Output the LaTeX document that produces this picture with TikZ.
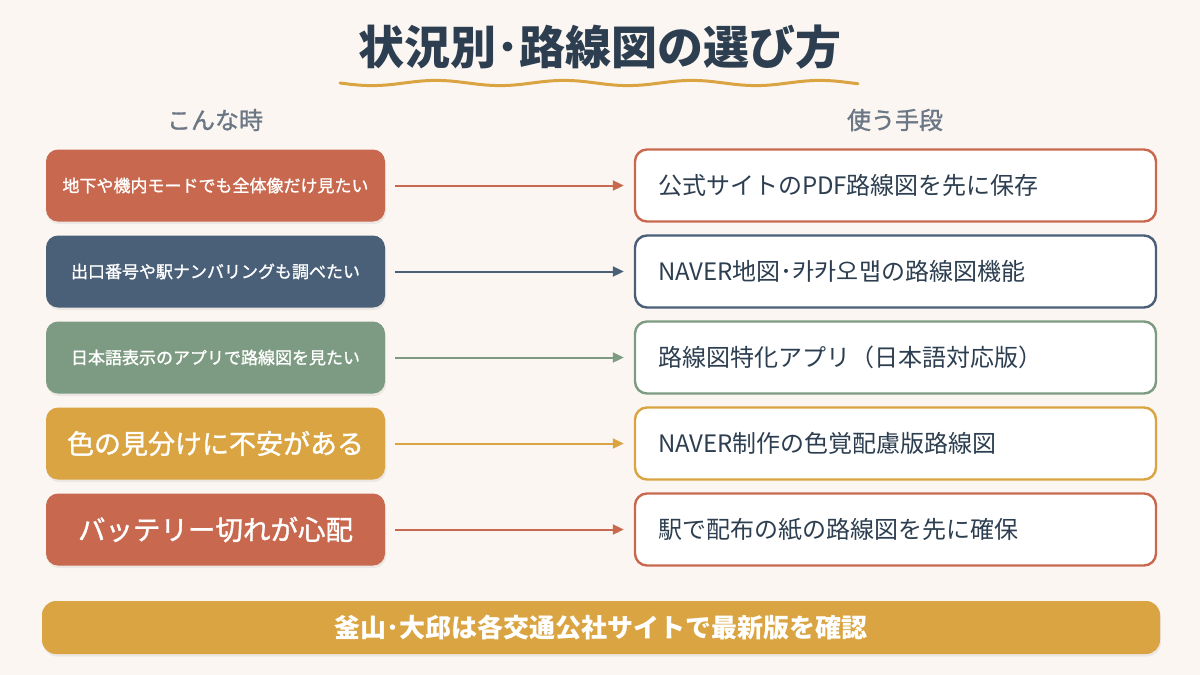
\documentclass[tikz,border=0pt]{standalone}
\usepackage{fontspec}
\setmainfont{Noto Sans CJK JP}
\newfontfamily\jpmed[FakeBold=1.2]{Noto Sans CJK JP}
\usetikzlibrary{arrows.meta,shadows}
\definecolor{bgc}{HTML}{FBF6F1}
\definecolor{terra}{HTML}{C8694F}
\definecolor{slate}{HTML}{4A5F78}
\definecolor{sage}{HTML}{7D9B82}
\definecolor{gold}{HTML}{D9A441}
\definecolor{navy}{HTML}{2C3E50}
\definecolor{hdrgray}{HTML}{6B7785}
\tikzset{
  leftbox/.style={rounded corners=12pt, minimum width=339pt, minimum height=72pt,
    text=white, inner sep=0pt,
    drop shadow={opacity=0.12, shadow xshift=1pt, shadow yshift=-2.5pt}},
  rightbox/.style={rounded corners=12pt, minimum width=521pt, minimum height=72pt,
    fill=white, line width=2.4pt, text=navy, text width=475pt, align=left,
    inner xsep=23pt, inner ysep=0pt, font=\fontsize{24}{28}\selectfont},
  conn/.style={line width=2pt, -{Triangle[length=11pt,width=10pt]}, shorten <=10pt, shorten >=10pt},
  hdr/.style={text=hdrgray, font=\jpmed\fontsize{24}{26}\selectfont},
}
\begin{document}
\begin{tikzpicture}[x=1pt,y=-1pt]
\useasboundingbox (0,0) rectangle (1200,675);
\fill[bgc] (0,0) rectangle (1200,675);
% title
\node[text=navy, font=\bfseries\fontsize{46}{50}\selectfont] (title) at (600,47) {状況別･路線図の選び方};
\draw[gold, line width=3pt, line cap=round] plot[domain=0:518, samples=120] ({340+\x}, {83+2.6*sin(\x*2.8125)});
% headers
\node[hdr] (h1) at (215,120) {こんな時};
\node[hdr] (h2) at (895,120) {使う手段};
% left boxes
\node[leftbox, fill=terra, font=\jpmed\fontsize{17}{20}\selectfont] (l1) at (215.5,185.5) {地下や機内モードでも全体像だけ見たい};
\node[leftbox, fill=slate, font=\jpmed\fontsize{17}{20}\selectfont] (l2) at (215.5,271.5) {出口番号や駅ナンバリングも調べたい};
\node[leftbox, fill=sage, font=\jpmed\fontsize{17}{20}\selectfont] (l3) at (215.5,357.5) {日本語表示のアプリで路線図を見たい};
\node[leftbox, fill=gold, font=\jpmed\fontsize{27}{30}\selectfont] (l4) at (215.5,443.5) {色の見分けに不安がある};
\node[leftbox, fill=terra, font=\jpmed\fontsize{27.5}{30}\selectfont] (l5) at (215.5,529.5) {バッテリー切れが心配};
% right boxes
\node[rightbox, draw=terra] (r1) at (895.5,185.5) {公式サイトのPDF路線図を先に保存};
\node[rightbox, draw=slate] (r2) at (895.5,271.5) {NAVER地図･카카오맵の路線図機能};
\node[rightbox, draw=sage] (r3) at (895.5,357.5) {路線図特化アプリ（日本語対応版）};
\node[rightbox, draw=gold] (r4) at (895.5,443.5) {NAVER制作の色覚配慮版路線図};
\node[rightbox, draw=terra] (r5) at (895.5,529.5) {駅で配布の紙の路線図を先に確保};
% connectors
\draw[conn, terra] (l1) -- (r1);
\draw[conn, slate] (l2) -- (r2);
\draw[conn, sage] (l3) -- (r3);
\draw[conn, gold] (l4) -- (r4);
\draw[conn, terra] (l5) -- (r5);
% banner
\node[rounded corners=14pt, fill=gold, minimum width=1118pt, minimum height=53pt, inner sep=0pt,
  text=white, font=\bfseries\fontsize{26}{28}\selectfont,
  drop shadow={opacity=0.12, shadow xshift=1pt, shadow yshift=-2.5pt}] (banner) at (601,627.5) {釜山･大邱は各交通公社サイトで最新版を確認};
\end{tikzpicture}
\end{document}
